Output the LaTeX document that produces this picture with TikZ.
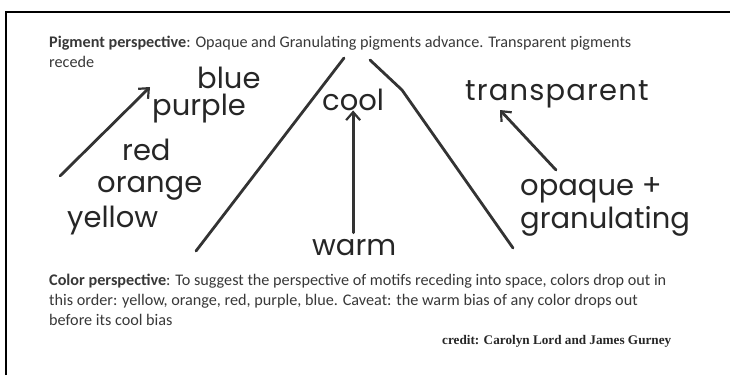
\documentclass[tikz,border=0pt]{standalone}
\usepackage{fontspec}
\setmainfont{Carlito}
\newfontfamily\handfont{Poppins}
\newfontfamily\creditfont{Liberation Serif}
\usetikzlibrary{arrows.meta}

\begin{document}
\begin{tikzpicture}[x=1pt,y=-1pt,>={Straight Barb[length=8pt,width=14pt,line width=2.2pt]}]
  \tikzstyle{hand}=[font=\handfont\fontsize{29}{29}\selectfont,text=black!85,inner sep=0pt,anchor=base west]
  \tikzstyle{stroke}=[draw=black!80,line width=2.8pt,line cap=round]
  \tikzstyle{para}=[font=\fontsize{16.2}{20}\selectfont,text=black!78,inner sep=0pt,anchor=base west,align=left]

  \useasboundingbox (0,0) rectangle (730,375);
  \draw[line width=2pt] (6,375) -- (6,12) -- (730,12);

  % printed notes (anchored on the last line)
  \node[para] (pigment) at (49,67) {\textbf{Pigment perspective}: Opaque and Granulating pigments advance. Transparent pigments\\recede};
  \node[para] (colour) at (49,325) {\textbf{Color perspective}: To suggest the perspective of motifs receding into space, colors drop out in\\this order: yellow, orange, red, purple, blue. Caveat: the warm bias of any color drops out\\before its cool bias};
  \node[inner sep=0pt,anchor=base west,font=\creditfont\bfseries\fontsize{13.2}{14}\selectfont,text=black!85] (credit) at (442,344) {credit: Carolyn Lord and James Gurney};

  % colour words
  \node[hand] (blue)   at (197,88)  {blue};
  \node[hand] (purple) at (152,115) {purple};
  \node[hand] (red)    at (122,160) {red};
  \node[hand] (orange) at (97,192)  {orange};
  \node[hand] (yellow) at (67,227)  {yellow};
  \coordinate (colfrom) at (60,176);
  \coordinate (colto)   at (150,87);
  \draw[stroke,->] (colfrom) -- (colto);

  % temperature
  \coordinate (leftfoot)  at (196,251);
  \coordinate (lefttop)   at (344,58);
  \coordinate (righttop)  at (370,60);
  \coordinate (rightkink) at (402,90);
  \coordinate (rightfoot) at (513,248);
  \draw[stroke] (leftfoot) -- (lefttop);
  \draw[stroke] (righttop) -- (rightkink) -- (rightfoot);
  \node[hand] (cool) at (322,110) {cool};
  \node[hand] (warm) at (312,255) {warm};
  \draw[stroke,->] (warm.north -| cool) ++(0,-6) coordinate (warmtop) (warmtop) -- (cool.south);

  % pigments
  \node[hand] (transp)  at (465,100) {\addfontfeature{LetterSpace=4}transparent};
  \node[hand] (opaque)  at (520,195) {opaque +};
  \node[hand] (granul)  at (520,228) {granulating};
  \coordinate (pigfrom) at (556,170);
  \coordinate (pigto)   at (500,110);
  \draw[stroke,->] (pigfrom) -- (pigto);
\end{tikzpicture}
\end{document}
